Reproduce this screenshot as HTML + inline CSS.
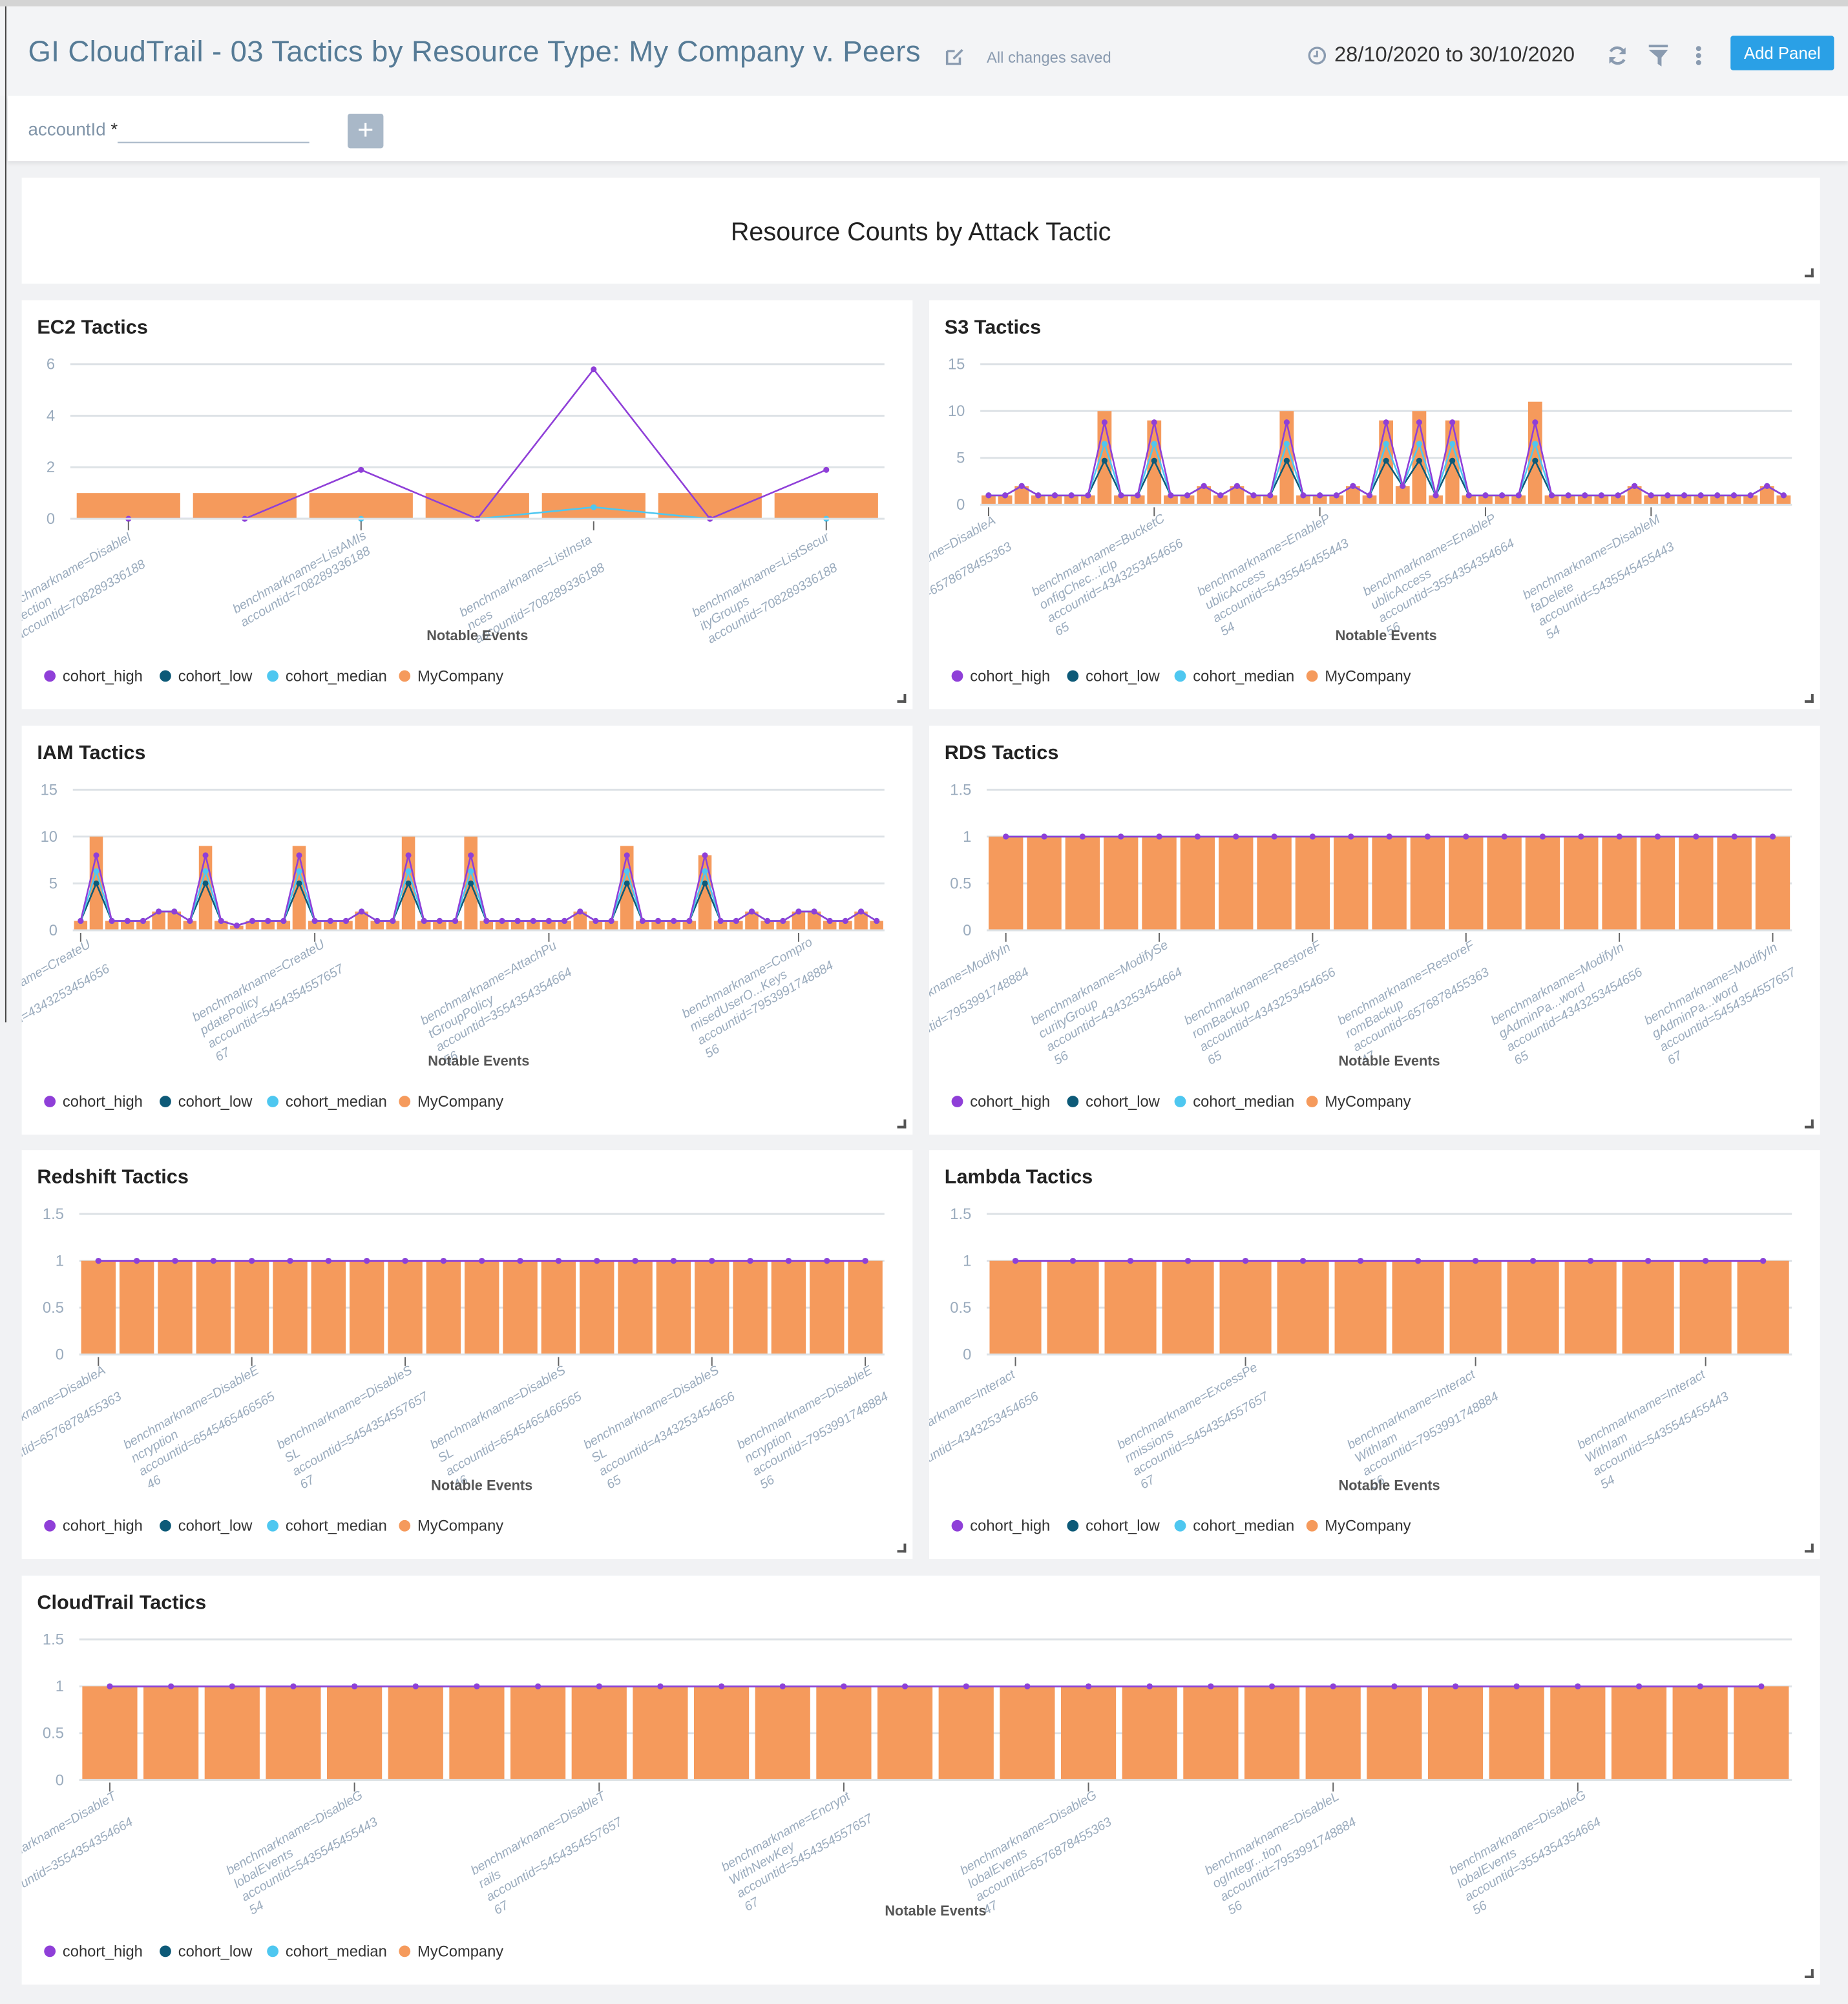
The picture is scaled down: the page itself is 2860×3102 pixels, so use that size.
<!DOCTYPE html>
<html><head><meta charset="utf-8">
<style>
html,body{margin:0;padding:0;}
body{width:2860px;height:3102px;overflow:hidden;background:#f1f2f4;font-family:"Liberation Sans",sans-serif;}
#w{position:absolute;left:0;top:0;width:1446px;height:1568px;transform:scale(1.978);transform-origin:0 0;background:#f1f2f4;}
.abs{position:absolute;}
.panel{position:absolute;background:#fff;overflow:hidden;}
.ptitle{position:absolute;left:12px;top:13px;font-size:15.5px;font-weight:bold;color:#222;}
.corner{position:absolute;right:5px;bottom:5px;width:5px;height:5px;border-right:2px solid #555;border-bottom:2px solid #555;}
</style></head><body>
<div id="w">
  <div class="abs" style="left:0;top:0;width:1446px;height:5px;background:#d4d4d4"></div>
  <div class="abs" style="left:0;top:5px;width:1446px;height:70px;background:#f3f4f6"></div>
  <div class="abs" style="left:4px;top:5px;width:1px;height:795px;background:#444"></div>
  <div class="abs" style="left:22px;top:27px;font-size:23px;color:#567b96;letter-spacing:0.2px;white-space:nowrap">GI CloudTrail - 03 Tactics by Resource Type: My Company v. Peers</div>
  <svg class="abs" style="left:739px;top:36px" width="16" height="16" viewBox="0 0 16 16"><path d="M2 4h6M2 4v10h10v-5" stroke="#8a9bb0" stroke-width="1.8" fill="none"/><path d="M7 10l7-7" stroke="#8a9bb0" stroke-width="1.8"/></svg>
  <div class="abs" style="left:772px;top:38px;font-size:12px;color:#8a9bb0">All changes saved</div>
  <svg class="abs" style="left:1023px;top:36px" width="15" height="15" viewBox="0 0 16 16"><circle cx="8" cy="8" r="6.5" stroke="#8a9bb0" stroke-width="1.8" fill="none"/><path d="M8 4v4.5h-3" stroke="#8a9bb0" stroke-width="1.6" fill="none"/></svg>
  <div class="abs" style="left:1044px;top:34px;font-size:16.5px;color:#333">28/10/2020 to 30/10/2020</div>
  <svg class="abs" style="left:1257px;top:35px" width="17" height="17" viewBox="0 0 16 16"><path d="M13 6a5.5 5.5 0 0 0-10-1M3 10a5.5 5.5 0 0 0 10 1" stroke="#8a9bb0" stroke-width="2" fill="none"/><path d="M14 2v5h-5zM2 14V9h5z" fill="#8a9bb0"/></svg>
  <svg class="abs" style="left:1290px;top:35px" width="15" height="17" viewBox="0 0 15 17"><rect x="0" y="0" width="15" height="2" fill="#8a9bb0"/><path d="M0 4h15l-5 6v7l-3-2v-5z" fill="#8a9bb0"/></svg>
  <svg class="abs" style="left:1325px;top:35px" width="8" height="17"><circle cx="4" cy="3" r="2" fill="#8a9bb0"/><circle cx="4" cy="8.5" r="2" fill="#8a9bb0"/><circle cx="4" cy="14" r="2" fill="#8a9bb0"/></svg>
  <div class="abs" style="left:1354px;top:28px;width:81px;height:27px;background:#2aa0e6;border-radius:2px;color:#fff;font-size:13px;line-height:27px;text-align:center">Add Panel</div>
  <div class="abs" style="left:6px;top:75px;width:1440px;height:51px;background:#fff;box-shadow:0 2px 3px rgba(0,0,0,0.08)"></div>
  <div class="abs" style="left:22px;top:93px;font-size:14px;color:#8094a8">accountId <span style="color:#333">*</span></div>
  <div class="abs" style="left:92px;top:111px;width:150px;height:1px;background:#a9b8c8"></div>
  <div class="abs" style="left:272px;top:89px;width:28px;height:27px;background:#a9b8c8;border-radius:2px;color:#fff;font-size:22px;line-height:26px;text-align:center">+</div>
  <div class="panel" style="left:17px;top:139px;width:1407px;height:83px"><div style="position:absolute;left:0;width:100%;top:32px;text-align:center;font-size:20px;color:#222">Resource Counts by Attack Tactic</div><div class="corner"></div></div>
</div>
<script>
var W=document.getElementById('w');
var C={h:'#8f3fd8',l:'#0d5a78',m:'#4ec7f0',b:'#f59a5c'};
function panel(x,y,w,h,title,o){
  var d=document.createElement('div');d.className='panel';
  d.style.cssText='left:'+x+'px;top:'+y+'px;width:'+w+'px;height:'+h+'px';
  var s='<div class="ptitle">'+title+'</div><div class="corner"></div>';
  var x0=o.x0,x1=o.x1,yt=50,yb=o.yb||160,n=o.b.length,band=(x1-x0)/n,bw=band*(o.bf||0.88);
  var sy=function(v){return yb-(v/o.max)*(yb-yt);};
  var g='<svg width="'+w+'" height="'+h+'" style="position:absolute;left:0;top:0;font-family:Liberation Sans,sans-serif">';
  o.ticks.forEach(function(t){var yy=sy(t);g+='<line x1="'+x0+'" x2="'+x1+'" y1="'+yy+'" y2="'+yy+'" stroke="#dde2e6" stroke-width="1.5"/><text x="'+(x0-12)+'" y="'+(yy+4)+'" font-size="12" fill="#9aabbd" text-anchor="end">'+t+'</text>';});
  o.b.forEach(function(v,i){var cx=x0+band*(i+0.5);g+='<rect x="'+(cx-bw/2)+'" y="'+sy(v)+'" width="'+bw+'" height="'+(yb-sy(v))+'" fill="'+C.b+'"/>';});
  function line(arr,c){if(!arr)return;var p=arr.map(function(v,i){return (x0+band*(i+0.5)).toFixed(1)+','+sy(v).toFixed(1);}).join(' ');
    g+='<polyline points="'+p+'" fill="none" stroke="'+c+'" stroke-width="1.3"/>';
    arr.forEach(function(v,i){g+='<circle cx="'+(x0+band*(i+0.5))+'" cy="'+sy(v)+'" r="2.3" fill="'+c+'"/>';});}
  line(o.l,C.l);line(o.m,C.m);line(o.hh,C.h);
  g+='<line x1="'+x0+'" x2="'+x1+'" y1="'+yb+'" y2="'+yb+'" stroke="#dde2e6" stroke-width="1.5"/>';
  o.lab.forEach(function(L){var cx=x0+band*(L[0]+0.5);g+='<line x1="'+cx+'" x2="'+cx+'" y1="'+(yb+2)+'" y2="'+(yb+9)+'" stroke="#666" stroke-width="1"/>';
    var lx=-(L[1][0].length*5.3);
    g+='<g transform="translate('+(cx+3)+','+(yb+16)+') rotate(-30)"><text font-size="10" font-style="italic" fill="#9aabbd">';
    L[1].forEach(function(t,k){g+='<tspan x="'+lx+'" y="'+(k*12)+'">'+t+'</tspan>';});g+='</text></g>';});
  g+='<text x="'+((x0+x1)/2)+'" y="'+(o.ney||266)+'" font-size="11" font-weight="bold" fill="#555" text-anchor="middle">Notable Events</text>';
  var lx=18,ly=298;[['cohort_high',C.h],['cohort_low',C.l],['cohort_median',C.m],['MyCompany',C.b]].forEach(function(q){
    g+='<circle cx="'+(lx+4)+'" cy="'+(ly-4)+'" r="4.5" fill="'+q[1]+'"/><text x="'+(lx+14)+'" y="'+ly+'" font-size="12" fill="#333">'+q[0]+'</text>';lx+=q[0].length*6.4+20;});
  g+='</svg>';d.innerHTML=s+g;W.appendChild(d);
}
function ones(n){var a=[];for(var i=0;i<n;i++)a.push(1);return a;}
var acc='accountid=';
panel(17,235,697,320,'EC2 Tactics',{x0:38,x1:675,yb:171,max:6,ticks:[0,2,4,6],bf:0.89,ney:266,
 b:ones(7),hh:[0,0,1.9,0,5.8,0,1.9],m:[0,0,0,0,0.45,0,0],
 lab:[[0,['benchmarkname=DisableI','...tection',acc+'708289336188']],[2,['benchmarkname=ListAMIs',acc+'708289336188']],[4,['benchmarkname=ListInsta','nces',acc+'708289336188']],[6,['benchmarkname=ListSecur','ityGroups',acc+'708289336188']]]});
var s3=[1,1,2,1,1,1,1,10,1,1,9,1,1,2,1,2,1,1,10,1,1,1,2,1,9,2,10,1,9,1,1,1,1,11,1,1,1,1,1,2,1,1,1,1,1,1,1,2,1];
function mk(b,p,v){return b.map(function(x){return x>=8?v:x;});}
panel(727,235,697,320,'S3 Tactics',{x0:40,x1:675,max:15,ticks:[0,5,10,15],bf:0.85,
 b:s3,l:mk(s3,0,4.7),m:mk(s3,0,6.5),hh:mk(s3,0,8.8),
 lab:[[0,['benchmarkname=DisableA','',acc+'6578678455363']],[10,['benchmarkname=BucketC','onfigChec...iclp',acc+'4343253454656','65']],[20,['benchmarkname=EnableP','ublicAccess',acc+'5435545455443','54']],[30,['benchmarkname=EnableP','ublicAccess',acc+'3554354354664','56']],[40,['benchmarkname=DisableM','faDelete',acc+'5435545455443','54']]]});
var iam=[1,10,1,1,1,2,2,1,9,1,0.5,1,1,1,9,1,1,1,2,1,1,10,1,1,1,10,1,1,1,1,1,1,2,1,1,9,1,1,1,1,8,1,1,2,1,1,2,2,1,1,2,1];
panel(17,568,697,320,'IAM Tactics',{x0:40,x1:675,max:15,ticks:[0,5,10,15],bf:0.85,
 b:iam,l:iam.map(function(x){return x>=8?5:x;}),m:iam.map(function(x){return x>=8?6.3:x;}),hh:iam.map(function(x){return x>=8?8:x;}),
 lab:[[0,['benchmarkname=CreateU','',acc+'4343253454656']],[15,['benchmarkname=CreateU','pdatePolicy',acc+'5454354557657','67']],[30,['benchmarkname=AttachPu','tGroupPolicy',acc+'3554354354664','56']],[46,['benchmarkname=Compro','misedUserO...Keys',acc+'7953991748884','56']]]});
panel(727,568,697,320,'RDS Tactics',{x0:45,x1:675,max:1.5,ticks:[0,0.5,1,1.5],bf:0.9,
 b:ones(21),hh:ones(21),m:ones(21),l:ones(21),
 lab:[[0,['benchmarkname=ModifyIn','rd',acc+'7953991748884']],[4,['benchmarkname=ModifySe','curityGroup',acc+'4343253454664','56']],[8,['benchmarkname=RestoreF','romBackup',acc+'4343253454656','65']],[12,['benchmarkname=RestoreF','romBackup',acc+'6576878455363','47']],[16,['benchmarkname=ModifyIn','gAdminPa...word',acc+'4343253454656','65']],[20,['benchmarkname=ModifyIn','gAdminPa...word',acc+'5454354557657','67']]]});
panel(17,900,697,320,'Redshift Tactics',{x0:45,x1:675,max:1.5,ticks:[0,0.5,1,1.5],bf:0.9,
 b:ones(21),hh:ones(21),m:ones(21),l:ones(21),
 lab:[[0,['benchmarkname=DisableA','',acc+'6576878455363']],[4,['benchmarkname=DisableE','ncryption',acc+'6545465466565','46']],[8,['benchmarkname=DisableS','SL',acc+'5454354557657','67']],[12,['benchmarkname=DisableS','SL',acc+'6545465466565','46']],[16,['benchmarkname=DisableS','SL',acc+'4343253454656','65']],[20,['benchmarkname=DisableE','ncryption',acc+'7953991748884','56']]]});
panel(727,900,697,320,'Lambda Tactics',{x0:45,x1:675,max:1.5,ticks:[0,0.5,1,1.5],bf:0.9,
 b:ones(14),hh:ones(14),m:ones(14),l:ones(14),
 lab:[[0,['benchmarkname=Interact','',acc+'4343253454656']],[4,['benchmarkname=ExcessPe','rmissions',acc+'5454354557657','67']],[8,['benchmarkname=Interact','WithIam',acc+'7953991748884','56']],[12,['benchmarkname=Interact','WithIam',acc+'5435545455443','54']]]});
panel(17,1233,1407,320,'CloudTrail Tactics',{x0:45,x1:1385,max:1.5,ticks:[0,0.5,1,1.5],bf:0.9,
 b:ones(28),hh:ones(28),m:ones(28),l:ones(28),
 lab:[[0,['benchmarkname=DisableT','',acc+'3554354354664']],[4,['benchmarkname=DisableG','lobalEvents',acc+'5435545455443','54']],[8,['benchmarkname=DisableT','rails',acc+'5454354557657','67']],[12,['benchmarkname=Encrypt','WithNewKey',acc+'5454354557657','67']],[16,['benchmarkname=DisableG','lobalEvents',acc+'6576878455363','47']],[20,['benchmarkname=DisableL','ogIntegr...tion',acc+'7953991748884','56']],[24,['benchmarkname=DisableG','lobalEvents',acc+'3554354354664','56']]]});
</script>
</body></html>
